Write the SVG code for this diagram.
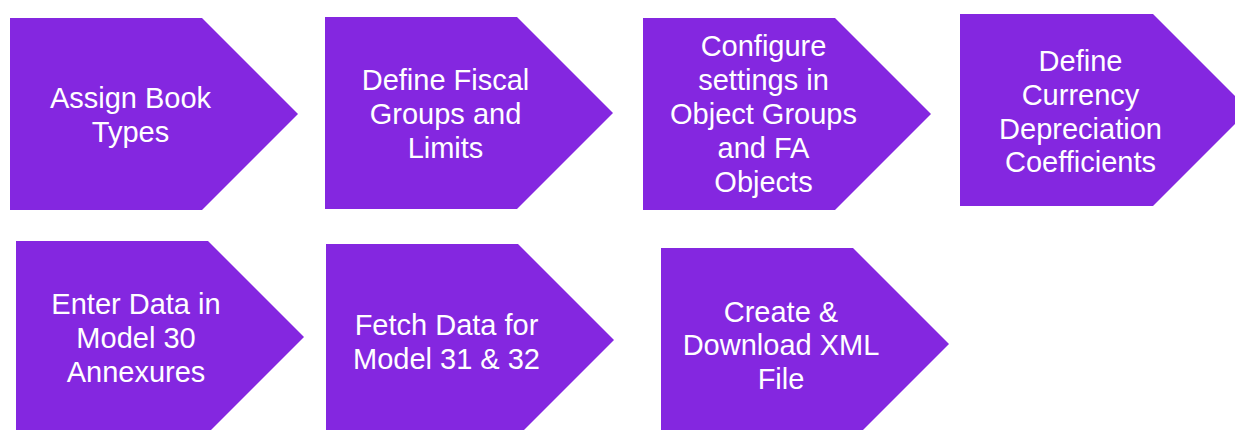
<svg xmlns="http://www.w3.org/2000/svg" width="1235" height="430" viewBox="0 0 1235 430">
<style>
.box{fill:#8427E0;}
.lbl{fill:#FFFFFF;font-family:"Liberation Sans",Arial,sans-serif;font-size:29px;text-anchor:middle;}
</style>
<rect width="1235" height="430" fill="#FFFFFF"/>
<g id="connectors"/>
<g id="n1">
<polygon class="box" points="10,18 202,18 298,114 202,210 10,210"/>
<text class="lbl" x="130.5"><tspan x="130.5" y="107.5">Assign Book</tspan><tspan x="130.5" y="141.5">Types</tspan></text>
</g>
<g id="n2">
<polygon class="box" points="325,17 517,17 613,113 517,209 325,209"/>
<text class="lbl"><tspan x="445.5" y="89.5">Define Fiscal</tspan><tspan x="445.5" y="123.5">Groups and</tspan><tspan x="445.5" y="157.5">Limits</tspan></text>
</g>
<g id="n3">
<polygon class="box" points="643,18 835,18 931,114 835,210 643,210"/>
<text class="lbl"><tspan x="763.5" y="56">Configure</tspan><tspan x="763.5" y="90">settings in</tspan><tspan x="763.5" y="124">Object Groups</tspan><tspan x="763.5" y="158">and FA</tspan><tspan x="763.5" y="192">Objects</tspan></text>
</g>
<g id="n4">
<polygon class="box" points="960,14 1153,14 1249,110 1153,206 960,206"/>
<text class="lbl"><tspan x="1080.5" y="70.5">Define</tspan><tspan x="1080.5" y="104.5">Currency</tspan><tspan x="1080.5" y="138.5">Depreciation</tspan><tspan x="1080.5" y="172">Coefficients</tspan></text>
</g>
<g id="n5">
<polygon class="box" points="16,241 208,241 304,337 208,433 16,433"/>
<text class="lbl"><tspan x="136" y="314">Enter Data in</tspan><tspan x="136" y="348">Model 30</tspan><tspan x="136" y="382">Annexures</tspan></text>
</g>
<g id="n6">
<polygon class="box" points="326,244 518,244 614,340 518,436 326,436"/>
<text class="lbl"><tspan x="446.5" y="335">Fetch Data for</tspan><tspan x="446.5" y="368.5">Model 31 &amp; 32</tspan></text>
</g>
<g id="n7">
<polygon class="box" points="661,248 853,248 949,344 853,440 661,440"/>
<text class="lbl"><tspan x="781" y="321.5">Create &amp;</tspan><tspan x="781" y="355">Download XML</tspan><tspan x="781" y="389">File</tspan></text>
</g>
</svg>
